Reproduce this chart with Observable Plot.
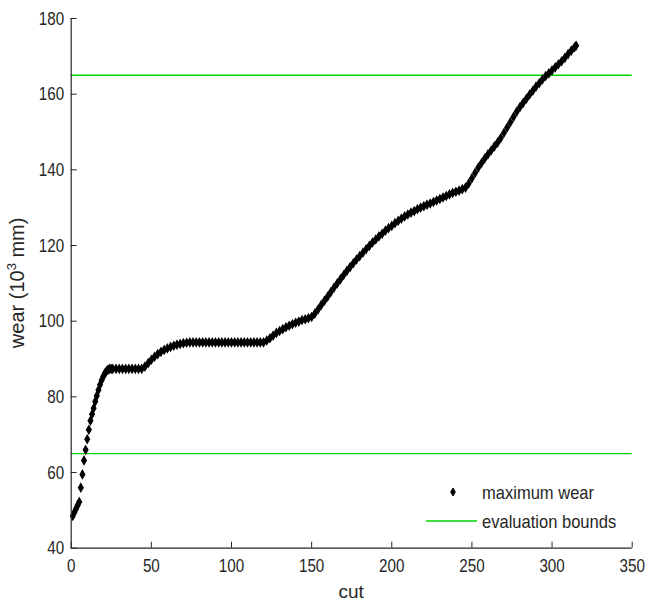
<!DOCTYPE html>
<html>
<head>
<meta charset="utf-8">
<script src="https://cdn.jsdelivr.net/npm/d3@7"></script>
<script src="https://cdn.jsdelivr.net/npm/@observablehq/plot@0.6"></script>
<style>
  html, body { margin: 0; padding: 0; background: #fff; }
  #chart svg { display: block; }
</style>
</head>
<body>
<div id="chart"></div>
<script>
const cuts = [1,2,3,4,5,6,7,8,9,10,11,12,13,14,15,16,17,18,19,20,21,22,23,24,25,
  26,28,30,32,34,36,38,40,42,44,
  46,48,50,52,54,56,58,60,62,64,66,68,70,72,
  74,76,78,80,82,84,86,88,90,92,94,96,98,100,102,104,106,108,110,112,114,116,118,120,
  122,124,126,128,130,132,134,136,138,140,142,144,146,148,150,
  152,154,156,158,160,162,164,166,168,170,172,174,176,178,180,
  182,184,186,188,190,192,194,196,198,200,202,204,206,208,210,
  212,214,216,218,220,222,224,226,228,230,232,234,236,238,240,
  242,244,246,248,250,252,254,256,258,260,262,264,266,268,270,
  272,274,276,278,280,282,284,286,288,290,292,294,296,298,300,
  302,304,306,308,310,312,314,315];

const wear = [48.5,49.5,50.4,51.3,52.2,56.0,59.5,63.2,66.0,68.8,71.3,73.7,75.4,77.0,78.8,80.3,81.8,83.2,84.4,85.4,86.2,86.8,87.2,87.4,87.4,
  87.4,87.4,87.4,87.4,87.4,87.4,87.4,87.4,87.4,87.4,
  88.0,88.9,89.8,90.6,91.3,91.9,92.4,92.8,93.2,93.5,93.8,94.0,94.2,94.3,
  94.4,94.4,94.4,94.4,94.4,94.4,94.4,94.4,94.4,94.4,94.4,94.4,94.4,94.4,94.4,94.4,94.4,94.4,94.4,94.4,94.4,94.4,94.4,94.4,
  94.9,95.5,96.2,96.9,97.4,97.9,98.4,98.8,99.2,99.6,99.9,100.3,100.5,100.8,101.1,
  102.0,103.1,104.3,105.4,106.5,107.7,108.9,110.0,111.1,112.2,113.3,114.3,115.3,116.3,117.2,
  118.1,119.0,119.9,120.8,121.6,122.4,123.1,123.9,124.6,125.2,125.9,126.5,127.1,127.7,128.2,
  128.7,129.1,129.6,130.0,130.4,130.8,131.1,131.5,131.9,132.3,132.7,133.1,133.5,133.9,134.2,
  134.5,134.9,135.3,136.4,137.8,139.2,140.6,141.8,143.0,144.1,145.1,146.2,147.2,148.4,149.8,
  151.2,152.6,154.0,155.4,156.6,157.7,158.8,159.9,160.9,162.0,162.9,163.9,164.8,165.5,166.3,
  167.1,167.9,168.7,169.6,170.6,171.5,172.4,172.8];

const bounds = [65, 165];
const xTicks = [0, 50, 100, 150, 200, 250, 300, 350];
const yTicks = [40, 60, 80, 100, 120, 140, 160, 180];
const seriesNames = ["maximum wear", "evaluation bounds"];
const xLabel = "cut";

const data = cuts.map((c, i) => ({cut: c, wear: wear[i]}));

const FONT = "'Liberation Sans', Arial, sans-serif";
const GREEN = "#00d400";
const AXIS = "#262626";

const W = 645, H = 603;
const mL = 70.7, mR = 13.3, mT = 18, mB = 55.3;

const chart = Plot.plot({
  width: W,
  height: H,
  marginLeft: mL,
  marginRight: mR,
  marginTop: mT,
  marginBottom: mB,
  style: {fontFamily: FONT, fontSize: "19px", color: AXIS, background: "#fff", overflow: "visible"},
  x: {domain: [0, 350], ticks: xTicks},
  y: {domain: [40, 180], ticks: yTicks},
  marks: [
    Plot.ruleY(bounds, {stroke: GREEN, strokeWidth: 1.4}),
    Plot.dot(data, {x: "cut", y: "wear", symbol: "diamond", r: 2.5, fill: "black", stroke: "black", strokeWidth: 1.2}),
    Plot.ruleX([0], {stroke: AXIS, strokeWidth: 1.2}),
    Plot.ruleY([40], {stroke: AXIS, strokeWidth: 1.2}),
    Plot.axisX({ticks: xTicks, tickSize: -6, tickPadding: 16, label: null, stroke: AXIS, fill: AXIS, fontSize: 19}),
    Plot.axisY({ticks: yTicks, tickSize: -6, tickPadding: 13, label: null, stroke: AXIS, fill: AXIS, fontSize: 19})
  ]
});

document.getElementById("chart").appendChild(chart);

const svg = d3.select(chart);
const xMid = (mL + (W - mR)) / 2;
const yMid = (mT + (H - mB)) / 2;

// condense helper: imitates the narrow face of the original
function condense(sel, k) {
  sel.each(function() {
    const len = this.getComputedTextLength();
    if (len > 0) {
      this.setAttribute("textLength", (len * k).toFixed(2));
      this.setAttribute("lengthAdjust", "spacingAndGlyphs");
    }
  });
}
condense(svg.selectAll("g[aria-label='x-axis tick label'] text, g[aria-label='y-axis tick label'] text"), 0.8);

svg.append("text")
  .attr("x", xMid).attr("y", 598)
  .attr("text-anchor", "middle")
  .attr("font-family", FONT).attr("font-size", 19).attr("fill", AXIS)
  .text(xLabel);

const yl = svg.append("text")
  .attr("transform", `translate(24,${yMid}) rotate(-90)`)
  .attr("text-anchor", "middle")
  .attr("font-family", FONT).attr("font-size", 20).attr("fill", AXIS);
yl.append("tspan").text("wear (10");
yl.append("tspan").attr("font-size", 13).attr("dy", -8).text("3");
yl.append("tspan").attr("dy", 8).text(" mm)");

const lg = svg.append("g").attr("font-family", FONT).attr("font-size", 19).attr("fill", AXIS).attr("text-anchor", "start");
lg.append("path")
  .attr("d", d3.symbol(d3.symbolDiamond, Math.PI * 2.4 * 2.4)())
  .attr("transform", "translate(453,492)")
  .attr("fill", "black").attr("stroke", "black").attr("stroke-width", 1);
lg.append("text").attr("x", 482).attr("y", 492).attr("dy", "0.35em").text(seriesNames[0]);
lg.append("line").attr("x1", 426).attr("x2", 477).attr("y1", 521).attr("y2", 521)
  .attr("stroke", GREEN).attr("stroke-width", 1.4);
lg.append("text").attr("x", 482).attr("y", 521).attr("dy", "0.35em").text(seriesNames[1]);
condense(lg.selectAll("text"), 0.87);
</script>
</body>
</html>
